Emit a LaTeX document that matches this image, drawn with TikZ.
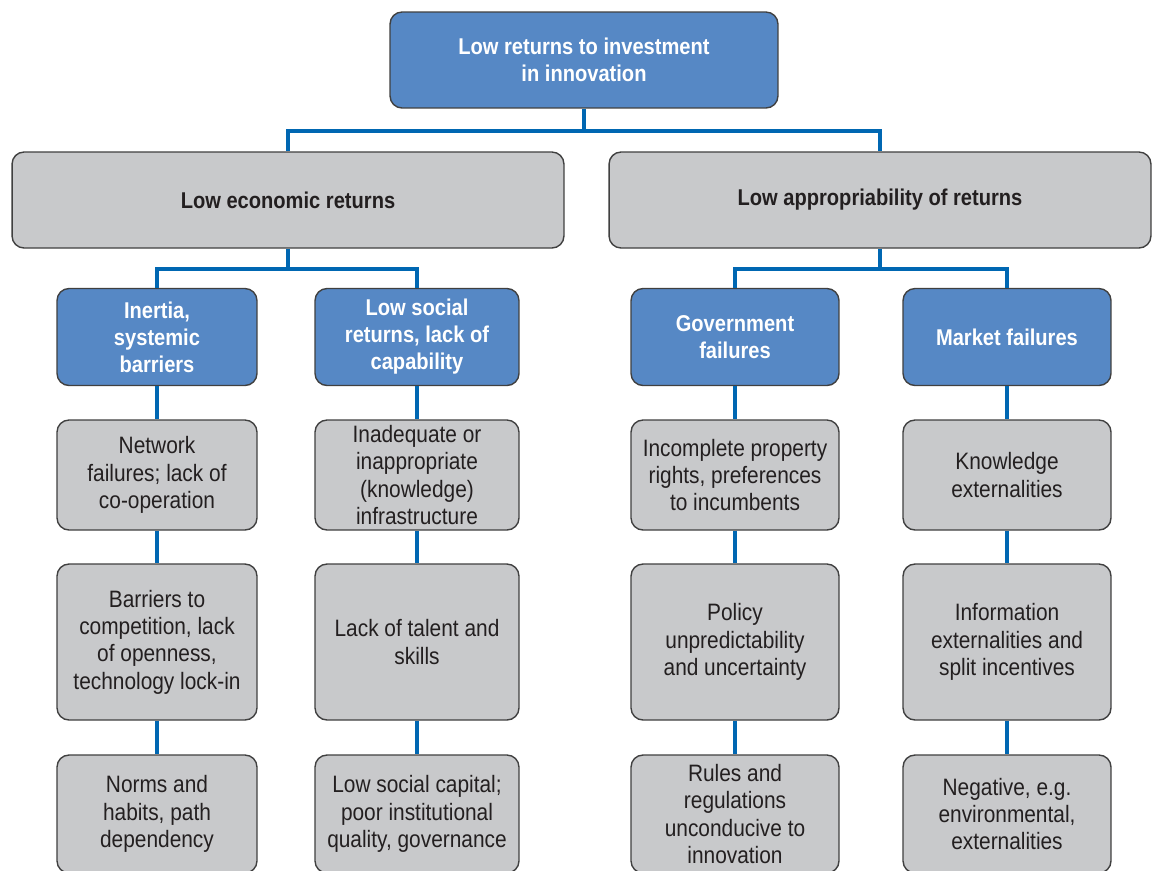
\documentclass[tikz,border=0pt]{standalone}
\usepackage{fontspec}
\setmainfont{Liberation Sans}[FakeStretch=0.88]
\usetikzlibrary{calc}

\definecolor{capblue}{RGB}{86,136,197}
\definecolor{capgrey}{RGB}{200,201,203}
\definecolor{linkblue}{RGB}{0,103,178}
\definecolor{rimgrey}{RGB}{64,64,64}
\definecolor{inkgrey}{RGB}{35,31,32}

\begin{document}
\begin{tikzpicture}[x=0.02cm,y=-0.02cm,
  box/.style={draw=rimgrey,line width=0.8pt,rounded corners=0.24cm,
    align=center,inner sep=2pt},
  bluebox/.style={box,fill=capblue,text=white,
    font=\bfseries\fontsize{13}{15.4}\selectfont},
  greybox/.style={box,fill=capgrey,text=inkgrey,
    font=\fontsize{13.5}{15.6}\selectfont},
  headgrey/.style={greybox,font=\bfseries\fontsize{13}{15.4}\selectfont},
  link/.style={draw=linkblue,line width=2.2pt}]
  \useasboundingbox (0,0) rectangle (1159,870);
  \fill[white] (0,0) rectangle (1159,870);
  \clip (0,0) rectangle (1159,870);

  % top of the tree
  \node[bluebox,minimum width=7.76cm,minimum height=1.92cm] (top) at (584,60)
    {Low returns to investment\\in innovation};
  \node[headgrey,minimum width=11.04cm,minimum height=1.92cm] (eco) at (288,200)
    {Low economic returns};
  \node[headgrey,minimum width=10.84cm,minimum height=1.92cm] (appr) at (880,200)
    {Low appropriability of returns};

  % second level
  \node[bluebox,minimum width=4cm,minimum height=1.94cm] (inertia) at (157,337)
    {Inertia,\\systemic\\barriers};
  \node[bluebox,minimum width=4.08cm,minimum height=1.94cm] (social) at (417,337)
    {Low social\\returns, lack of\\capability};
  \node[bluebox,minimum width=4.16cm,minimum height=1.94cm] (gov) at (735,337)
    {Government\\failures};
  \node[bluebox,minimum width=4.16cm,minimum height=1.94cm] (market) at (1007,337)
    {Market failures};

  % first row of causes
  \node[greybox,minimum width=4cm,minimum height=2.2cm] (network) at (157,475)
    {Network\\failures; lack of\\co-operation};
  \node[greybox,minimum width=4.08cm,minimum height=2.2cm] (infra) at (417,475)
    {Inadequate or\\inappropriate\\(knowledge)\\infrastructure};
  \node[greybox,minimum width=4.16cm,minimum height=2.2cm] (property) at (735,475)
    {Incomplete property\\rights, preferences\\to incumbents};
  \node[greybox,minimum width=4.16cm,minimum height=2.2cm] (knowledge) at (1007,475)
    {Knowledge\\externalities};

  % second row of causes
  \node[greybox,minimum width=4cm,minimum height=3.12cm] (barriers) at (157,642)
    {Barriers to\\competition, lack\\of openness,\\technology lock-in};
  \node[greybox,minimum width=4.08cm,minimum height=3.12cm] (talent) at (417,642)
    {Lack of talent and\\skills};
  \node[greybox,minimum width=4.16cm,minimum height=3.12cm] (policy) at (735,642)
    {Policy\\unpredictability\\and uncertainty};
  \node[greybox,minimum width=4.16cm,minimum height=3.12cm] (info) at (1007,642)
    {Information\\externalities and\\split incentives};

  % third row of causes
  \node[greybox,minimum width=4cm,minimum height=2.36cm] (norms) at (157,814)
    {Norms and\\habits, path\\dependency};
  \node[greybox,minimum width=4.08cm,minimum height=2.36cm] (capital) at (417,814)
    {Low social capital;\\poor institutional\\quality, governance};
  \node[greybox,minimum width=4.16cm,minimum height=2.36cm] (rules) at (735,814)
    {Rules and\\regulations\\unconducive to\\innovation};
  \node[greybox,minimum width=4.16cm,minimum height=2.36cm] (negative) at (1007,814)
    {Negative, e.g.\\environmental,\\externalities};

  % branching connectors
  \coordinate (j0) at (584,131);
  \coordinate (j1) at (288,269);
  \coordinate (j2) at (880,269);
  \draw[link] (top.south) -- (j0);
  \draw[link] (eco.north) |- (j0) -| (appr.north);
  \draw[link] (eco.south) -- (j1);
  \draw[link] (inertia.north) |- (j1) -| (social.north);
  \draw[link] (appr.south) -- (j2);
  \draw[link] (gov.north) |- (j2) -| (market.north);

  % columns
  \draw[link] (inertia) -- (network);
  \draw[link] (network) -- (barriers);
  \draw[link] (barriers) -- (norms);
  \draw[link] (social) -- (infra);
  \draw[link] (infra) -- (talent);
  \draw[link] (talent) -- (capital);
  \draw[link] (gov) -- (property);
  \draw[link] (property) -- (policy);
  \draw[link] (policy) -- (rules);
  \draw[link] (market) -- (knowledge);
  \draw[link] (knowledge) -- (info);
  \draw[link] (info) -- (negative);
\end{tikzpicture}
\end{document}
